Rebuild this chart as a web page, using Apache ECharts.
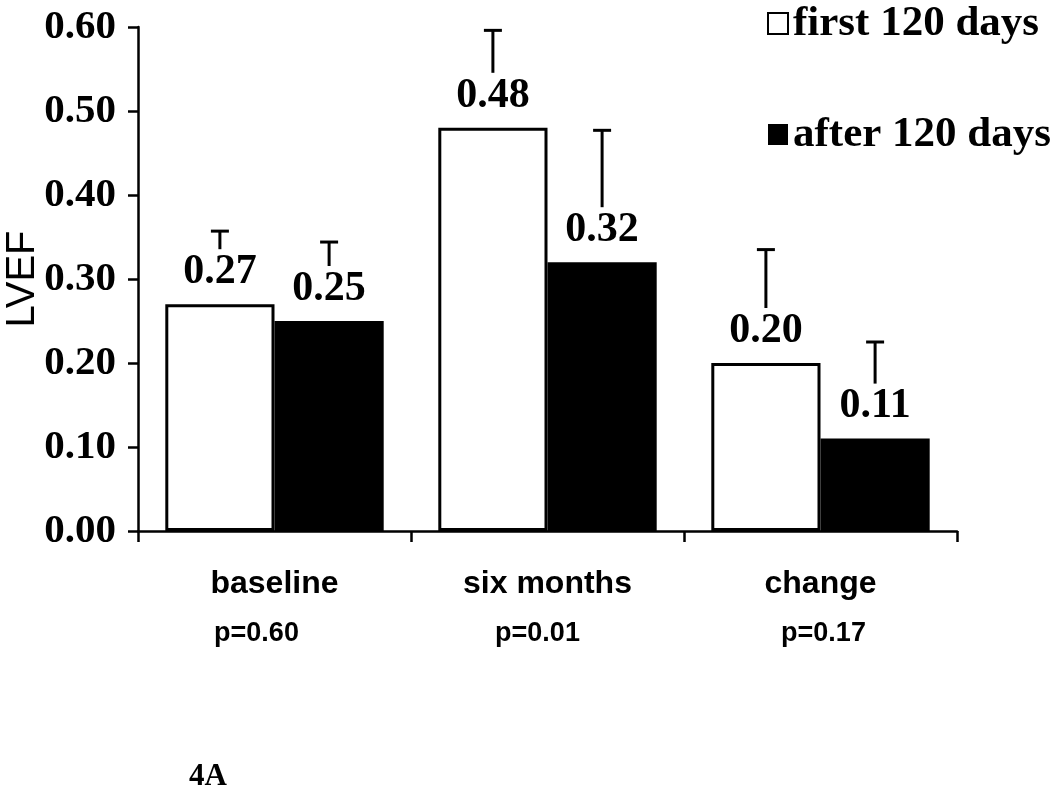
<!DOCTYPE html>
<html>
<head>
<meta charset="utf-8">
<script src="https://cdn.jsdelivr.net/npm/echarts@6/dist/echarts.min.js"></script>
<style>
html,body{margin:0;padding:0;background:#fff;}
#chart{width:1050px;height:788px;}
</style>
</head>
<body>
<div id="chart"></div>
<script>
var categories = ['baseline', 'six months', 'change'];
var pValues = ['p=0.60', 'p=0.01', 'p=0.17'];
var seriesNames = ['first 120 days', 'after 120 days'];
var firstValues = [0.27, 0.48, 0.20];
var afterValues = [0.25, 0.32, 0.11];
var firstUpper = [0.357, 0.596, 0.335];
var afterUpper = [0.344, 0.477, 0.225];
var yTicks = [0, 0.1, 0.2, 0.3, 0.4, 0.5, 0.6];

var chart = echarts.init(document.getElementById('chart'));
var CAT_GAP = 0.20;

function errorRenderer(side) {
  return function (params, api) {
    var idx = api.value(0);
    var val = api.value(1);
    var up = api.value(2);
    var catW = api.size([1, 0])[0];
    var barW = catW * (1 - CAT_GAP) / 2;
    var base = api.coord([idx, val]);
    var top = api.coord([idx, up]);
    var x = base[0] + side * barW / 2;
    var yStart = base[1] - 55;
    var yTop = top[1];
    if (yStart <= yTop) return null;
    var style = {stroke: '#000', lineWidth: 3};
    return {
      type: 'group',
      children: [
        {type: 'line', shape: {x1: x, y1: yStart, x2: x, y2: yTop}, style: style},
        {type: 'line', shape: {x1: x - 9, y1: yTop, x2: x + 9, y2: yTop}, style: style}
      ]
    };
  };
}

function errData(vals, ups) {
  return vals.map(function (v, i) { return [i, v, ups[i]]; });
}

var pStyle = {fontFamily: 'Liberation Sans', fontWeight: 'bold', fontSize: 27, color: '#000', lineHeight: 50};
var richLabel = {
  c: {fontFamily: 'Liberation Sans', fontWeight: 'bold', fontSize: 32, color: '#000', lineHeight: 50},
  p0: Object.assign({}, pStyle, {padding: [0, 36, 0, 0]}),
  p1: Object.assign({}, pStyle, {padding: [0, 20, 0, 0]}),
  p2: Object.assign({}, pStyle, {padding: [0, 0, 0, 6]})
};

var labelStyle = {
  show: true,
  position: 'top',
  distance: 11,
  fontFamily: 'Liberation Serif',
  fontWeight: 'bold',
  fontSize: 42,
  color: '#000',
  formatter: function (p) { return p.value.toFixed(2); }
};

chart.setOption({
  animation: false,
  backgroundColor: '#fff',
  grid: {left: 138, right: 93, top: 27, bottom: 257, containLabel: false, outerBoundsMode: 'none'},
  legend: {
    orient: 'vertical',
    left: 762,
    top: -3,
    itemWidth: 20,
    itemHeight: 21,
    itemGap: 68,
    icon: 'rect',
    data: seriesNames,
    textStyle: {fontFamily: 'Liberation Serif', fontWeight: 'bold', fontSize: 43, color: '#000', lineHeight: 42}
  },
  xAxis: {
    type: 'category',
    data: categories,
    axisLine: {lineStyle: {color: '#000', width: 2.5}},
    axisTick: {show: true, inside: false, length: 11, lineStyle: {color: '#000', width: 2.5}},
    axisLabel: {
      margin: 28,
      formatter: function (v, i) { return '{c|' + v + '}\n{p' + i + '|' + pValues[i] + '}'; },
      rich: richLabel
    },
    splitLine: {show: false}
  },
  yAxis: {
    type: 'value',
    min: yTicks[0],
    max: yTicks[yTicks.length - 1],
    interval: 0.1,
    name: 'LVEF',
    nameLocation: 'middle',
    nameGap: 95,
    nameMoveOverlap: false,
    nameRotate: 90,
    nameTextStyle: {fontFamily: 'Liberation Sans', fontSize: 40, color: '#000'},
    axisLine: {show: true, lineStyle: {color: '#000', width: 2.5}},
    axisTick: {show: true, length: 10, lineStyle: {color: '#000', width: 2.5}},
    axisLabel: {
      margin: 22,
      fontFamily: 'Liberation Serif',
      fontWeight: 'bold',
      fontSize: 41,
      color: '#000',
      formatter: function (v) { return v.toFixed(2); }
    },
    splitLine: {show: false}
  },
  series: [
    {
      name: seriesNames[0],
      type: 'bar',
      data: firstValues,
      barGap: '0%',
      barCategoryGap: (CAT_GAP * 100) + '%',
      itemStyle: {color: '#fff', borderColor: '#000', borderWidth: 3},
      label: labelStyle,
      z: 2
    },
    {
      name: seriesNames[1],
      type: 'bar',
      data: afterValues,
      barGap: '0%',
      barCategoryGap: (CAT_GAP * 100) + '%',
      itemStyle: {color: '#000', borderColor: '#000', borderWidth: 0},
      label: labelStyle,
      z: 2
    },
    {
      type: 'custom',
      renderItem: errorRenderer(-1),
      data: errData(firstValues, firstUpper),
      z: 3,
      silent: true
    },
    {
      type: 'custom',
      renderItem: errorRenderer(1),
      data: errData(afterValues, afterUpper),
      z: 3,
      silent: true
    }
  ],
  graphic: [
    {
      type: 'text',
      left: 189,
      top: 761,
      style: {text: '4A', fontFamily: 'Liberation Serif', fontWeight: 'bold', fontSize: 31, fill: '#000'}
    }
  ]
});
</script>
</body>
</html>
